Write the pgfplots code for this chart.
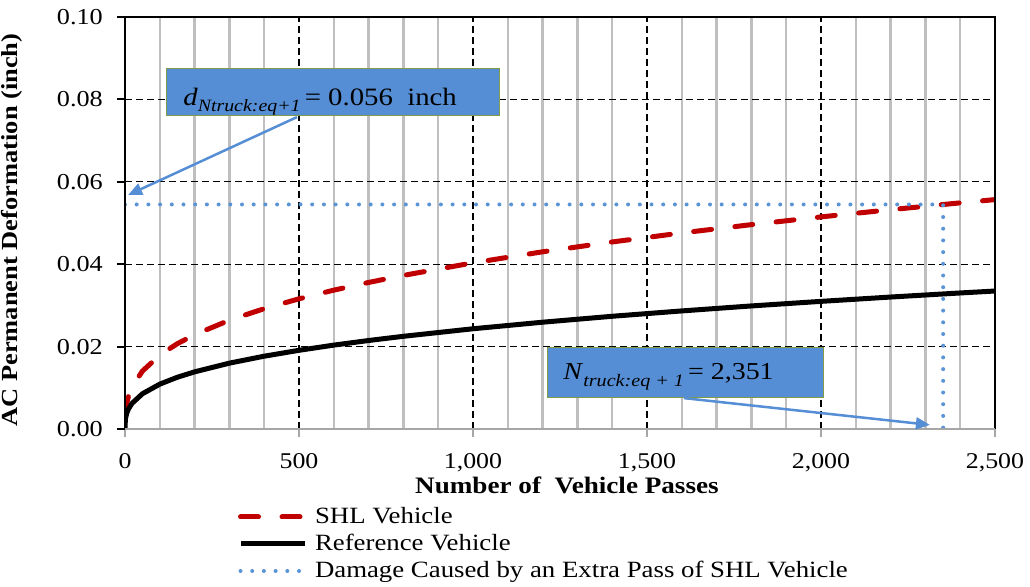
\documentclass[border=0pt]{standalone}
\usepackage{fontspec}
\setmainfont{Liberation Serif}[FakeStretch=1.15]
\usepackage{pgfplots}
\pgfplotsset{compat=1.18}
\usetikzlibrary{arrows.meta}
\definecolor{shlred}{RGB}{192,0,0}
\definecolor{dotblue}{RGB}{91,148,214}
\definecolor{boxblue}{RGB}{85,142,213}
\definecolor{boxedge}{RGB}{130,155,70}
\definecolor{gridgray}{RGB}{191,191,191}
\definecolor{axgray}{RGB}{166,166,166}
\begin{document}
\begin{tikzpicture}
\begin{axis}[
  scale only axis, width=870pt, height=412pt,
  xmin=0, xmax=2500, ymin=0, ymax=0.1,
  clip mode=individual,
  xtick={0,500,1000,1500,2000,2500},
  ytick={0,0.02,0.04,0.06,0.08,0.1},
  minor x tick num=4,
  xmajorgrids=true, ymajorgrids=true, xminorgrids=true,
  major grid style={black, line width=1.3pt, dash pattern=on 7pt off 4pt},
  minor grid style={gridgray, line width=2.4pt},
  minor tick length=0pt,
  major tick length=8pt,
  tick align=outside, tick pos=left,
  x tick style={axgray, line width=2pt},
  y tick style={black, line width=2pt},
  axis line style={draw=none},
  /pgf/number format/assume math mode=true,
  xticklabel style={font=\fontsize{22.5}{26}\selectfont, inner sep=0pt, anchor=north, yshift=-16pt, /pgf/number format/1000 sep={,}},
  yticklabel style={font=\fontsize{22.8}{26}\selectfont, inner sep=0pt, anchor=east, xshift=-14pt, /pgf/number format/fixed, /pgf/number format/fixed zerofill, /pgf/number format/precision=2},
  xlabel={\textbf{Number of\ \ Vehicle Passes}},
  xlabel style={font=\fontsize{23.6}{27}\selectfont, at={(axis description cs:0.508,-0.1555)}, anchor=base, inner sep=0pt},
  ylabel={\textbf{AC Permanent Deformation (inch)}},
  ylabel style={font=\fontsize{23}{27}\selectfont, at={(axis description cs:-0.1235,0.483)}, anchor=base, inner sep=0pt},
  legend image code/.code={\draw[#1] (0pt,0pt) -- (64pt,0pt);},
  legend cell align=left,
  legend style={at={(axis description cs:0.1299,-0.1917)}, anchor=north west, draw=none, fill=none, inner sep=0pt, outer sep=0pt, column sep=8pt, row sep=9pt, font=\fontsize{23.3}{26}\selectfont, nodes={inner sep=0pt, text height=16pt, text depth=2pt}},
]
\addplot[shlred, line width=5pt, dash pattern=on 18pt off 23.5pt, line cap=round] coordinates {
(1,0.00355) (2,0.00452) (5,0.00625) (10,0.00797) (20,0.01018) (50,0.01405)
(100,0.01793) (150,0.02069) (200,0.02289) (300,0.0264) (400,0.02921) (500,0.0316)
(600,0.0337) (700,0.03557) (800,0.03728) (1000,0.04033) (1200,0.04301) (1400,0.0454)
(1600,0.04759) (1800,0.0496) (2000,0.05148) (2200,0.05323) (2400,0.05489) (2500,0.05568)};
\addlegendentry{SHL Vehicle}
\addplot[black, line width=5pt] coordinates {
(0,0) (1,0.00218) (2,0.00278) (5,0.00383) (10,0.00488) (20,0.00621) (50,0.00855)
(100,0.01089) (150,0.01255) (200,0.01387) (300,0.01598) (400,0.01767) (500,0.0191)
(600,0.02036) (700,0.02148) (800,0.0225) (1000,0.02433) (1200,0.02592) (1400,0.02736)
(1600,0.02866) (1800,0.02987) (2000,0.03098) (2200,0.03203) (2400,0.03302) (2500,0.03349)};
\addlegendentry{Reference Vehicle}
\addplot[dotblue, line width=4pt, dash pattern=on 0pt off 11.7pt, line cap=round] coordinates {
(0,0.0545) (2351,0.0545) (2351,0)};
\addlegendentry{Damage Caused by an Extra Pass of SHL Vehicle}
% frame
\draw[black, line width=2.2pt] (rel axis cs:0,0) -- (rel axis cs:0,1) -- (rel axis cs:1,1) -- (rel axis cs:1,0);
\draw[axgray, line width=2pt] (rel axis cs:0,0) -- (rel axis cs:1,0);
% annotations
\draw[boxedge, fill=boxblue, line width=0.8pt] (axis cs:118,0.0760) rectangle (axis cs:1075,0.0876);
\node[anchor=base west, inner sep=0pt, font=\fontsize{25}{28}\selectfont] at (axis cs:167,0.0786)
  {\textit{d}\raisebox{-6pt}{\fontsize{17.3}{18}\selectfont\textit{Ntruck:eq+1}}\,= 0.056\ \ inch};
\draw[-{Triangle[length=14pt,width=12pt]}, boxblue, line width=2.5pt] (axis cs:494,0.0757) -- (axis cs:9,0.0568);
\draw[boxedge, fill=boxblue, line width=0.8pt] (axis cs:1213,0.00777) rectangle (axis cs:2006,0.0199);
\node[anchor=base west, inner sep=0pt, font=\fontsize{24.3}{28}\selectfont] at (axis cs:1259,0.0119)
  {\textit{N}\raisebox{-7pt}{\fontsize{17.5}{18}\selectfont\textit{truck:eq + 1}}\,= 2,351};
\draw[-{Triangle[length=14pt,width=12pt]}, boxblue, line width=2.5pt] (axis cs:1606,0.0075) -- (axis cs:2313,0.001);
\end{axis}
\pgfresetboundingbox
\path[use as bounding box] (-125pt,-157pt) rectangle (905pt,429pt);
\end{tikzpicture}
\end{document}
